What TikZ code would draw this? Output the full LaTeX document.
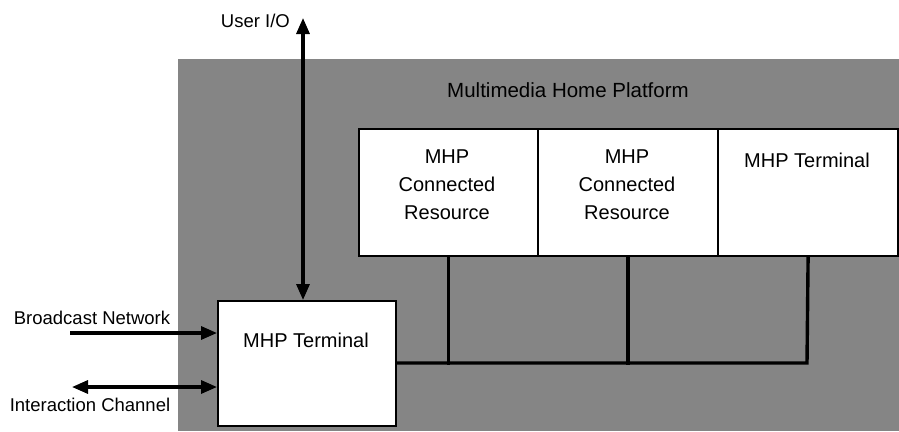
\documentclass[tikz,border=0pt]{standalone}
\usepackage{fontspec}
\setmainfont{Liberation Sans}
\usetikzlibrary{arrows.meta}
\definecolor{bggray}{gray}{0.52}
\tikzset{
  box/.style={draw=black, line width=2.2pt, fill=white, anchor=north west, inner sep=0pt},
  boxtext/.style={align=center, font=\fontsize{20}{28}\selectfont, inner sep=0pt},
  lbl/.style={font=\fontsize{18.5}{20}\selectfont, inner sep=0pt},
  bus/.style={line width=3.4pt, line cap=rect},
  conn/.style={line width=3.2pt, -{Triangle[length=16pt,width=13pt]}},
  conn2/.style={line width=3.2pt, {Triangle[length=16pt,width=13pt]}-{Triangle[length=16pt,width=13pt]}}
}

\begin{document}

\begin{tikzpicture}[x=1pt,y=-1pt]
\useasboundingbox (0,0) rectangle (899,431);
\fill[bggray] (178,59) rectangle (899,431);
\node[lbl, font=\fontsize{20.5}{22}\selectfont] (mhp) at (568,90) {Multimedia Home Platform};
\node[box, minimum width=179pt, minimum height=127pt] (b1) at (358,128) {};
\node[box, minimum width=180pt, minimum height=127pt] (b2) at (537,128) {};
\node[box, minimum width=180pt, minimum height=127pt] (b3) at (717,128) {};
\node[boxtext, anchor=north] (t1) at (447,150) {MHP\\Connected\\Resource};
\node[boxtext, anchor=north] (t2) at (627,150) {MHP\\Connected\\Resource};
\node[boxtext, anchor=north] (t3) at (807,153) {MHP Terminal};
\node[box, minimum width=178pt, minimum height=125pt] (lt) at (217,300) {};
\node[boxtext] (t4) at (306,340) {MHP Terminal};
\coordinate (busend) at (807,363);
\draw[bus] (b3.south) -- (busend) -- (lt.east |- busend);
\draw[bus] (b1.south) -- (b1.south |- busend);
\draw[bus] (b2.south) -- (b2.south |- busend);
\coordinate (uio) at (303,18);
\draw[conn2] (uio) -- (uio |- lt.north);
\node[lbl, anchor=east] (luio) at (290,21) {User I/O};
\coordinate (bn) at (70,333);
\draw[conn] (bn) -- (bn -| lt.west);
\node[lbl] (lbn) at (92,318) {Broadcast Network};
\coordinate (ic) at (72,387);
\draw[conn2] (ic) -- (ic -| lt.west);
\node[lbl] (lic) at (90,405) {Interaction Channel};
\end{tikzpicture}

\end{document}
